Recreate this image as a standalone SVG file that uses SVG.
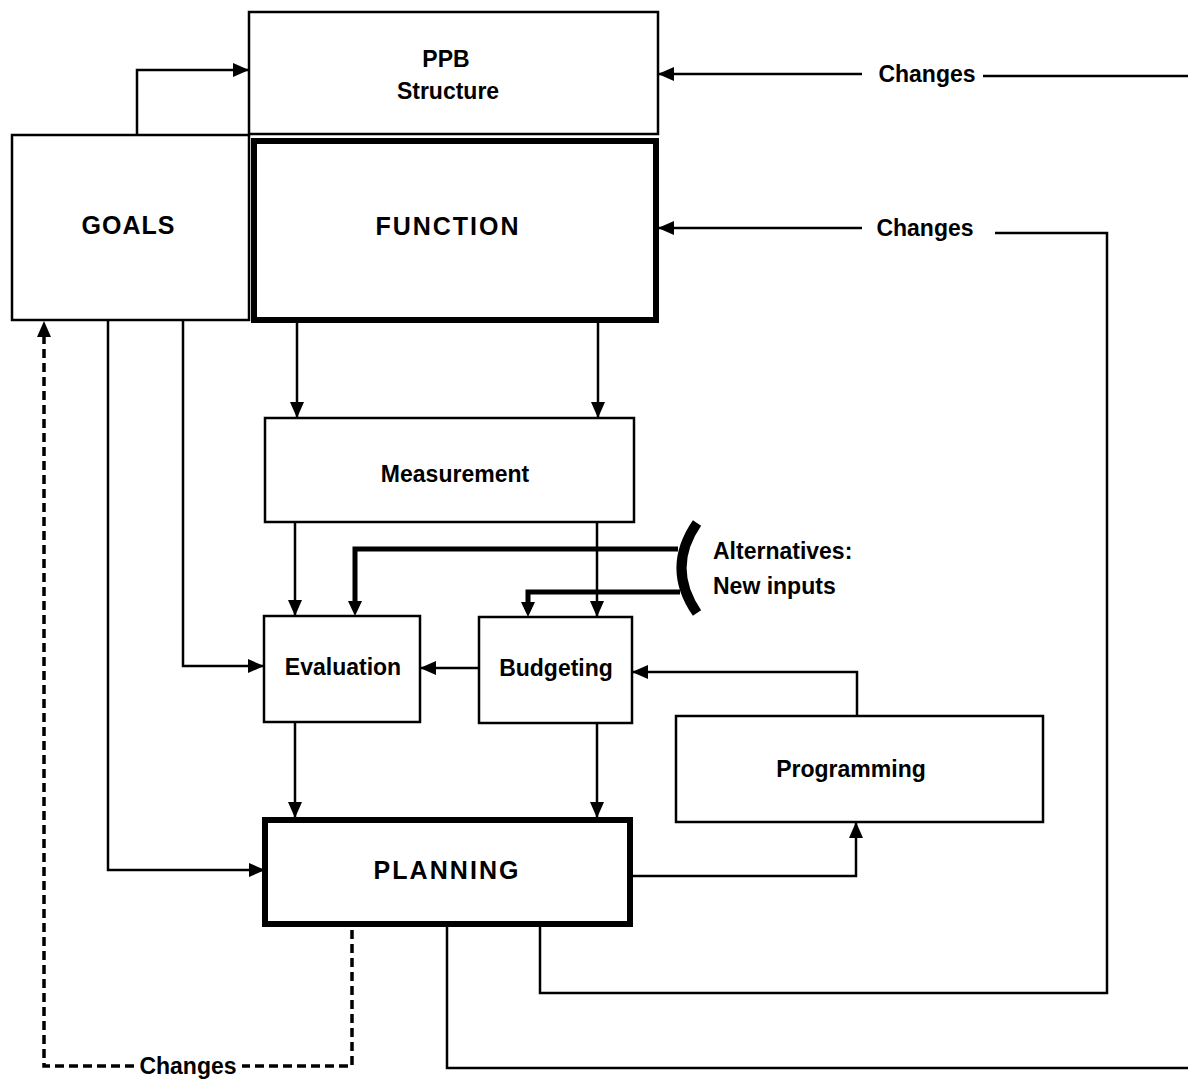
<svg xmlns="http://www.w3.org/2000/svg" width="1188" height="1081" viewBox="0 0 1188 1081">
<style>
.box{fill:#fff;stroke:#000;stroke-width:2.5}
.thick{fill:#fff;stroke:#000;stroke-width:6}
.ln{fill:none;stroke:#000;stroke-width:2.5}
.tl{fill:none;stroke:#000;stroke-width:5}
.dash{fill:none;stroke:#000;stroke-width:3.5;stroke-dasharray:9 5}
text{font-family:"Liberation Sans",Arial,sans-serif;font-weight:bold;font-size:23px;fill:#000}
.c{text-anchor:middle}
.cap{font-size:25px}
</style>
<defs>
<marker id="ah" markerUnits="userSpaceOnUse" markerWidth="18" markerHeight="16" refX="16" refY="8" orient="auto">
<path d="M0,1 L16,8 L0,15 Z" fill="#000"/>
</marker>
</defs>
<g id="ppb"><rect class="box" x="249" y="12" width="409" height="122"/>
<text class="c" x="446" y="67">PPB</text><text class="c" x="448" y="99">Structure</text></g>
<g id="goals"><rect class="box" x="12" y="135" width="237" height="185"/>
<text class="c cap" x="128" y="234" textLength="93" lengthAdjust="spacing">GOALS</text></g>
<g id="function"><rect class="thick" x="254" y="141" width="402" height="179"/>
<text class="c cap" x="447" y="235" textLength="143" lengthAdjust="spacing">FUNCTION</text></g>
<g id="measurement"><rect class="box" x="265" y="418" width="369" height="104"/>
<text class="c" x="455" y="482">Measurement</text></g>
<g id="evaluation"><rect class="box" x="264" y="616" width="156" height="106"/>
<text class="c" x="343" y="675">Evaluation</text></g>
<g id="budgeting"><rect class="box" x="479" y="617" width="153" height="106"/>
<text class="c" x="556" y="676">Budgeting</text></g>
<g id="programming"><rect class="box" x="676" y="716" width="367" height="106"/>
<text class="c" x="851" y="777">Programming</text></g>
<g id="planning"><rect class="thick" x="265" y="820" width="365" height="104"/>
<text class="c cap" x="446" y="879" textLength="145" lengthAdjust="spacing">PLANNING</text></g>
<g id="alternatives">
<path d="M697,523 Q666,568 697,613" fill="none" stroke="#000" stroke-width="10"/>
<text x="713" y="559">Alternatives:</text><text x="713" y="594">New inputs</text></g>
<g id="connectors">
<path class="ln" d="M137,135 V70 H249" marker-end="url(#ah)"/>
<path class="ln" d="M1188,76 H983"/>
<path class="ln" d="M862,74 H658" marker-end="url(#ah)"/>
<text class="c" x="927" y="82">Changes</text>
<path class="ln" d="M862,228 H658" marker-end="url(#ah)"/>
<text class="c" x="925" y="236">Changes</text>
<path class="ln" d="M995,233 H1107 V993 H540 V924"/>
<path class="ln" d="M447,924 V1068 H1188"/>
<path class="dash" d="M352,930 V1066 H242"/>
<path class="dash" d="M134,1066 H44 V336"/>
<path d="M44,321 L37,337 L51,337 Z" fill="#000"/>
<text class="c" x="188" y="1074">Changes</text>
<path class="ln" d="M108,320 V870 H265" marker-end="url(#ah)"/>
<path class="ln" d="M183,320 V666 H264" marker-end="url(#ah)"/>
<path class="ln" d="M297,320 V418" marker-end="url(#ah)"/>
<path class="ln" d="M598,320 V418" marker-end="url(#ah)"/>
<path class="ln" d="M295,522 V616" marker-end="url(#ah)"/>
<path class="ln" d="M597,522 V617" marker-end="url(#ah)"/>
<path class="tl" d="M678,549 H355 V602"/>
<path d="M355,616 L348,601 L362,601 Z" fill="#000"/>
<path class="tl" d="M680,592 H528 V603"/>
<path d="M528,617 L521,602 L535,602 Z" fill="#000"/>
<path class="ln" d="M479,668 H420" marker-end="url(#ah)"/>
<path class="ln" d="M857,716 V672 H632" marker-end="url(#ah)"/>
<path class="ln" d="M295,722 V818" marker-end="url(#ah)"/>
<path class="ln" d="M597,723 V818" marker-end="url(#ah)"/>
<path class="ln" d="M630,876 H856 V822" marker-end="url(#ah)"/>
</g>
</svg>
